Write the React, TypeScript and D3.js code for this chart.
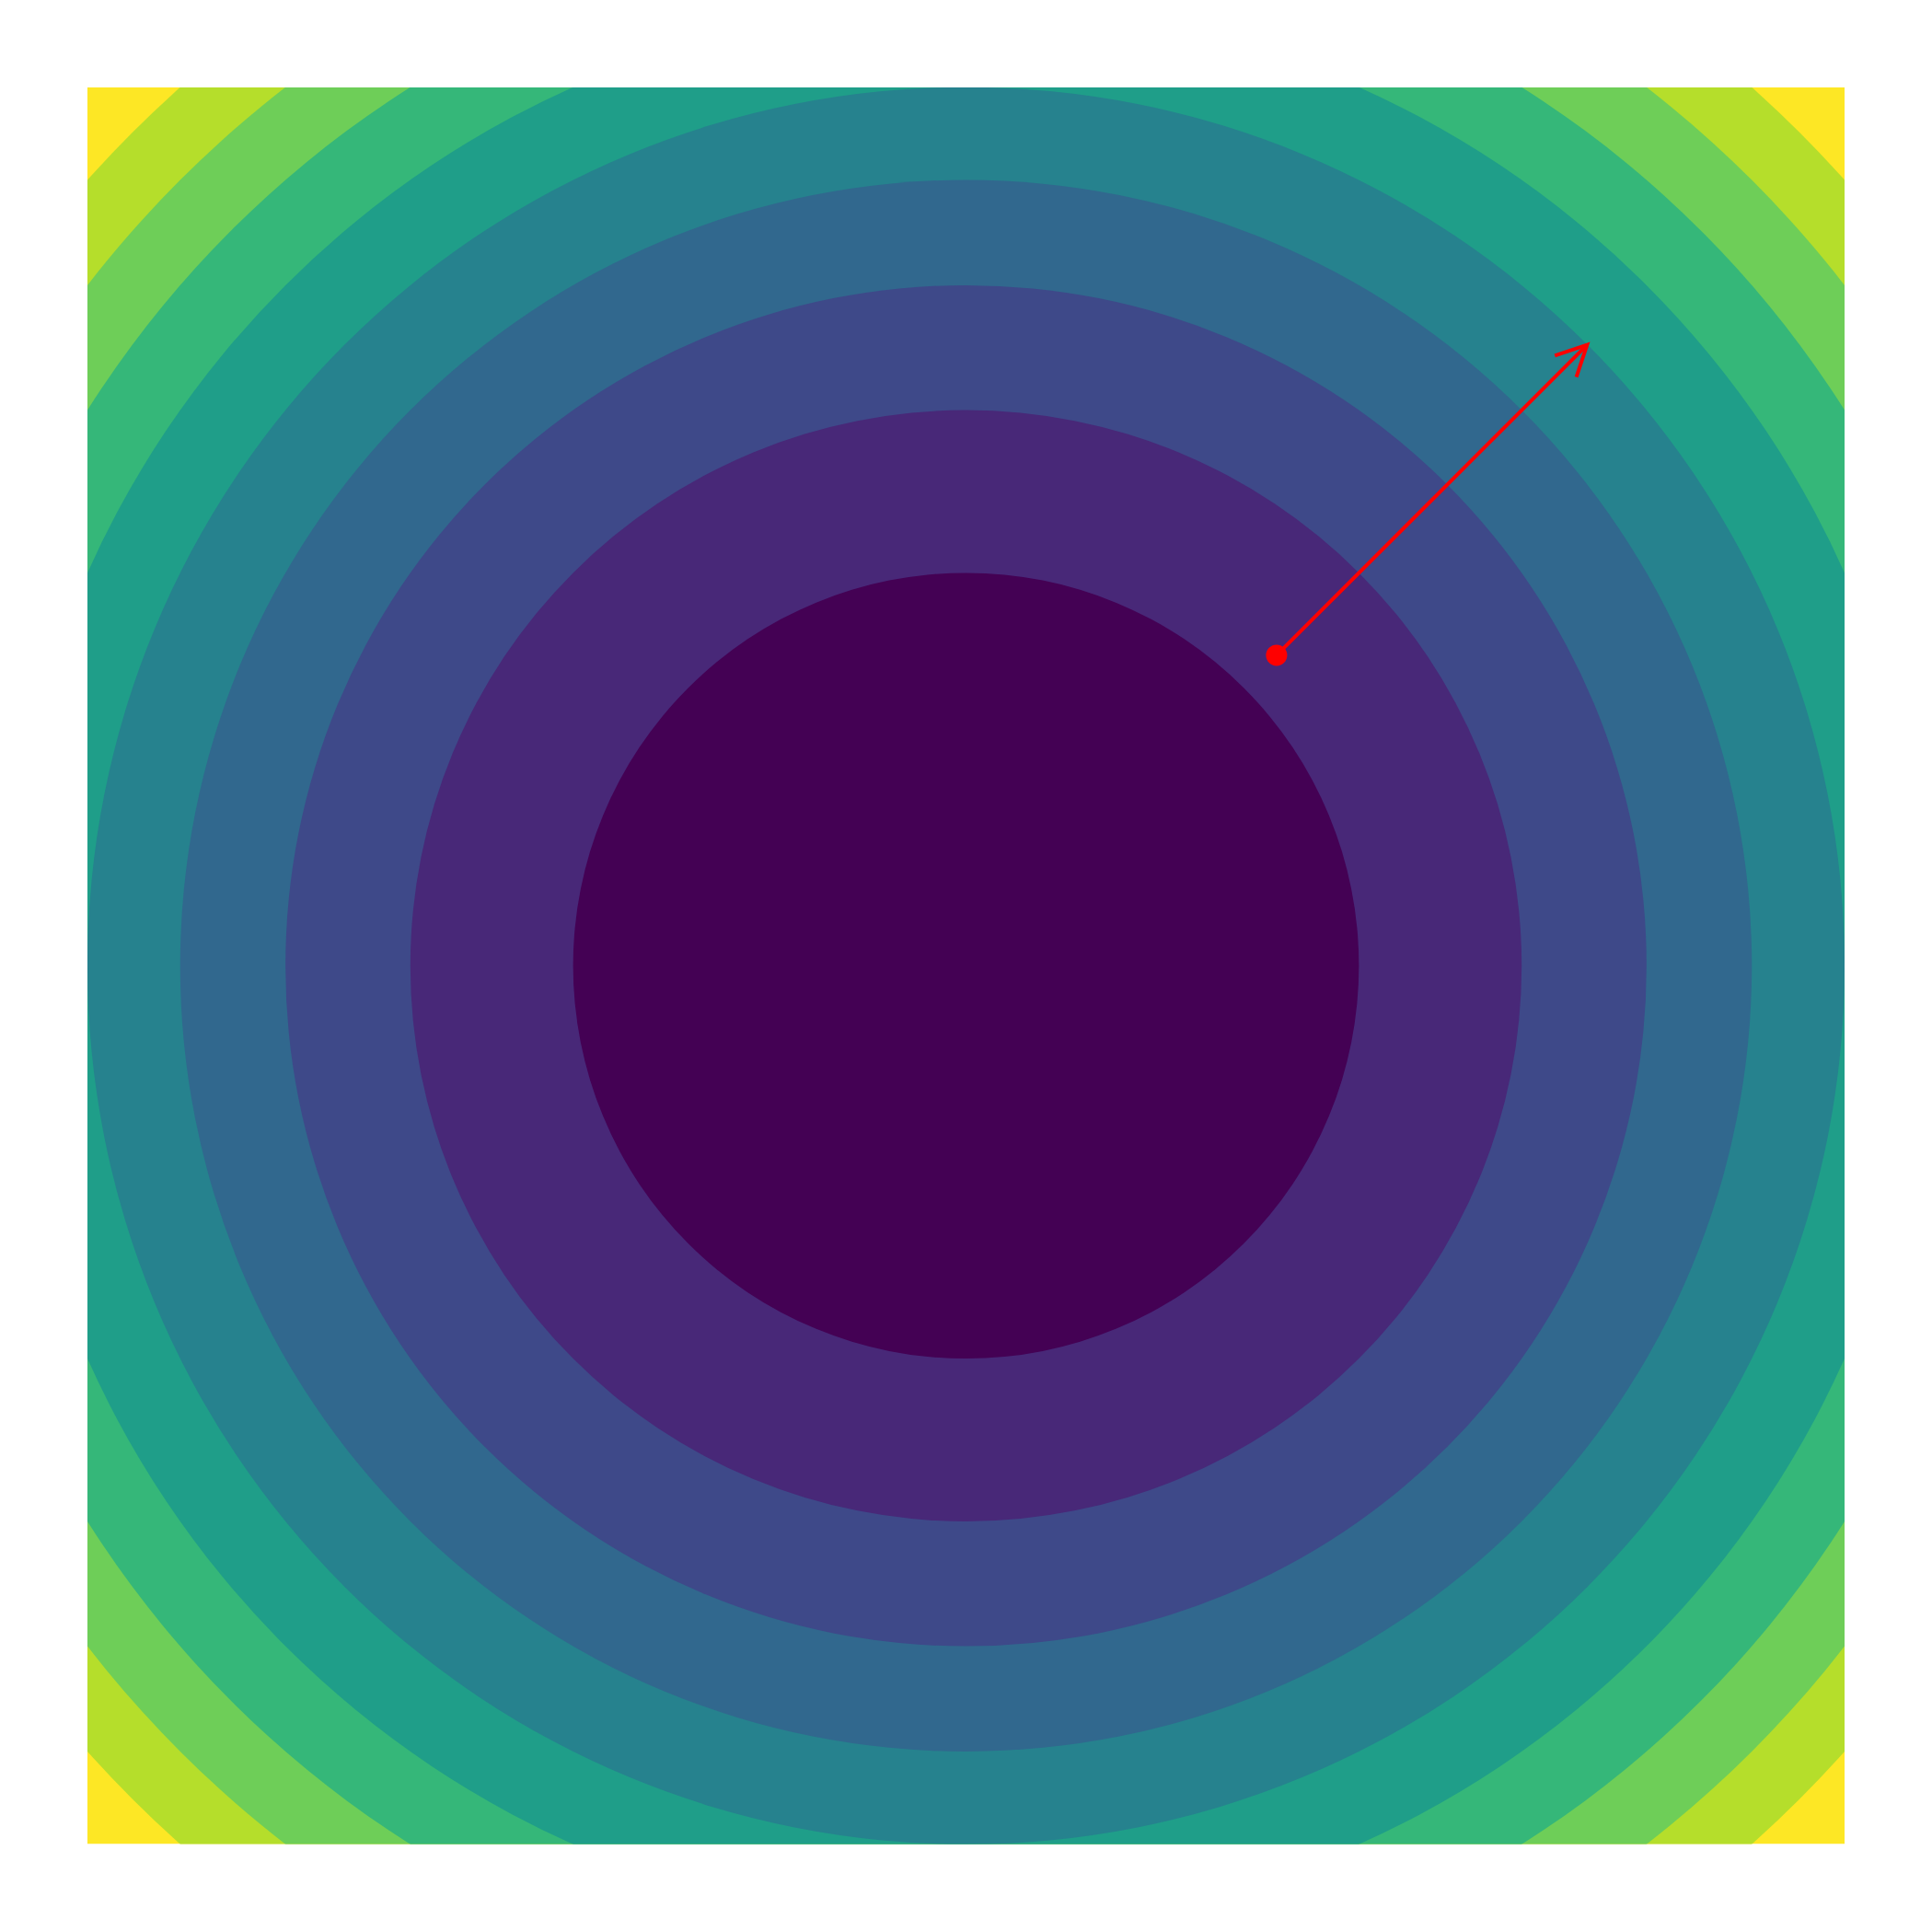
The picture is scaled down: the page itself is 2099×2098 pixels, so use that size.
import * as d3 from 'd3';

// f(x, y) = x² + y², filled contours
const levels = [0, 0.8, 1.6, 2.4, 3.2, 4.0, 4.8, 5.6, 6.4, 7.2, 8.0];
const domain = [-2, 2];
const point = [0.707, 0.707];
const arrowEnd = [1.414, 1.414];

export default function App() {
  const W = 2099;
  const H = 2098;
  const x = d3.scaleLinear().domain(domain).range([95, 2004]);
  const y = d3.scaleLinear().domain(domain).range([2003.5, 95]);
  const color = (i: number) => d3.interpolateViridis(i / (levels.length - 2));

  const cx = x(0);
  const cy = y(0);
  const pxPerUnit = x(1) - x(0);

  // bands from outside in: background = top band, then circles on each level
  const circles = d3.range(levels.length - 2, 0, -1).map(k => ({
    r: Math.sqrt(levels[k]) * pxPerUnit,
    fill: color(k - 1),
  }));

  const x0 = x(point[0]);
  const y0 = y(point[1]);
  const x1 = x(arrowEnd[0]);
  const y1 = y(arrowEnd[1]);
  const ang = Math.atan2(y0 - y1, x0 - x1);
  const headLen = 37;
  const headAng = Math.atan(0.5);
  const h1 = [x1 + headLen * Math.cos(ang + headAng), y1 + headLen * Math.sin(ang + headAng)];
  const h2 = [x1 + headLen * Math.cos(ang - headAng), y1 + headLen * Math.sin(ang - headAng)];

  return (
    <svg width={W} height={H} style={{ position: 'absolute', left: 0, top: 0, display: 'block', background: '#fff' }}>
      <defs>
        <clipPath id="plot-clip">
          <rect x={x(-2)} y={y(2)} width={x(2) - x(-2)} height={y(-2) - y(2)} />
        </clipPath>
      </defs>
      <g clipPath="url(#plot-clip)">
        <rect x={x(-2)} y={y(2)} width={x(2) - x(-2)} height={y(-2) - y(2)} fill={color(levels.length - 2)} />
        {circles.map((c, i) => (
          <circle key={i} cx={cx} cy={cy} r={c.r} fill={c.fill} />
        ))}
      </g>
      <line x1={x0} y1={y0} x2={x1} y2={y1} stroke="#ff0000" strokeWidth={4} strokeLinecap="butt" />
      <polyline
        points={`${h1[0]},${h1[1]} ${x1},${y1} ${h2[0]},${h2[1]}`}
        fill="none"
        stroke="#ff0000"
        strokeWidth={4}
        strokeLinejoin="miter"
      />
      <circle cx={x0} cy={y0} r={11.5} fill="#ff0000" />
    </svg>
  );
}
